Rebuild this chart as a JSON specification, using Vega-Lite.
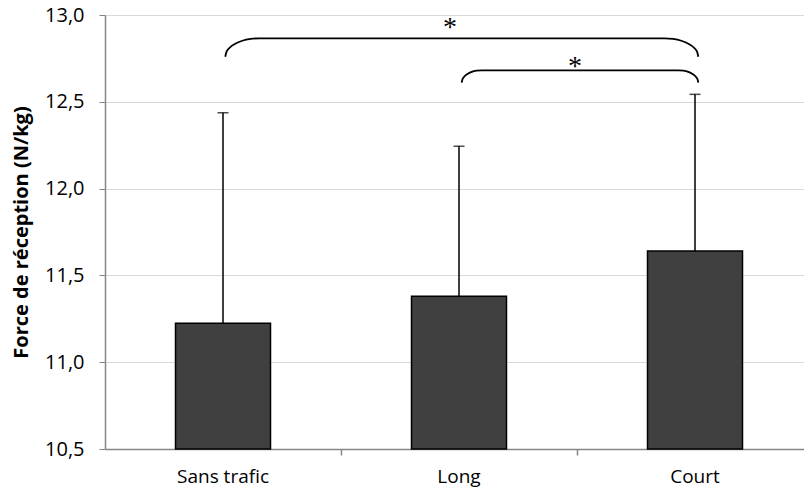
{
  "$schema": "https://vega.github.io/schema/vega-lite/v6.json",
  "width": 699,
  "height": 434,
  "autosize": {"type": "none"},
  "padding": {"left": 105, "top": 15, "right": 0, "bottom": 46},
  "background": "white",
  "config": {"view": {"stroke": null}, "font": "Open Sans"},
  "datasets": {
    "bars": [
      {"condition": "Sans trafic", "mean": 11.224, "upper": 12.437},
      {"condition": "Long", "mean": 11.38, "upper": 12.244},
      {"condition": "Court", "mean": 11.64, "upper": 12.543}
    ],
    "brackets": [
      {"id": "a", "i": 0, "bx": 0.5097, "by": 12.7598},
      {"id": "a", "i": 1, "bx": 0.5147, "by": 12.7873},
      {"id": "a", "i": 2, "bx": 0.5291, "by": 12.8128},
      {"id": "a", "i": 3, "bx": 0.5520, "by": 12.8347},
      {"id": "a", "i": 4, "bx": 0.5818, "by": 12.8516},
      {"id": "a", "i": 5, "bx": 0.6165, "by": 12.8622},
      {"id": "a", "i": 6, "bx": 0.6538, "by": 12.8658},
      {"id": "a", "i": 7, "bx": 2.3699, "by": 12.8658},
      {"id": "a", "i": 8, "bx": 2.4072, "by": 12.8622},
      {"id": "a", "i": 9, "bx": 2.4419, "by": 12.8516},
      {"id": "a", "i": 10, "bx": 2.4718, "by": 12.8347},
      {"id": "a", "i": 11, "bx": 2.4947, "by": 12.8128},
      {"id": "a", "i": 12, "bx": 2.5091, "by": 12.7873},
      {"id": "a", "i": 13, "bx": 2.5140, "by": 12.7598},
      {"id": "b", "i": 0, "bx": 1.5114, "by": 12.610},
      {"id": "b", "i": 1, "bx": 1.5143, "by": 12.6285},
      {"id": "b", "i": 2, "bx": 1.5228, "by": 12.6457},
      {"id": "b", "i": 3, "bx": 1.5363, "by": 12.6605},
      {"id": "b", "i": 4, "bx": 1.5538, "by": 12.6719},
      {"id": "b", "i": 5, "bx": 1.5742, "by": 12.679},
      {"id": "b", "i": 6, "bx": 1.5962, "by": 12.6814},
      {"id": "b", "i": 7, "bx": 2.4292, "by": 12.6814},
      {"id": "b", "i": 8, "bx": 2.4512, "by": 12.679},
      {"id": "b", "i": 9, "bx": 2.4716, "by": 12.6719},
      {"id": "b", "i": 10, "bx": 2.4892, "by": 12.6605},
      {"id": "b", "i": 11, "bx": 2.5026, "by": 12.6457},
      {"id": "b", "i": 12, "bx": 2.5111, "by": 12.6285},
      {"id": "b", "i": 13, "bx": 2.5140, "by": 12.610}
    ],
    "stars": [
      {"label": "*", "sx": 1.4619, "sy": 12.952},
      {"label": "*", "sx": 1.9915, "sy": 12.731}
    ]
  },
  "layer": [
    {
      "data": {"name": "bars"},
      "encoding": {
        "x": {
          "field": "condition",
          "type": "nominal",
          "sort": null,
          "scale": {"range": [0, 708], "paddingInner": 0, "paddingOuter": 0},
          "axis": {
            "title": null,
            "ticks": false,
            "labelAngle": 0,
            "labelFontSize": 19,
            "labelColor": "#000",
            "labelPadding": 18,
            "domainColor": "#868686",
            "domainWidth": 1.5
          }
        },
        "y": {
          "field": "mean",
          "type": "quantitative",
          "title": "Force de réception (N/kg)",
          "scale": {"domain": [10.5, 13], "zero": false, "nice": false},
          "axis": {
            "values": [10.5, 11, 11.5, 12, 12.5, 13],
            "labelExpr": "replace(format(datum.value, '.1f'), '.', ',')",
            "labelFontSize": 20,
            "labelColor": "#000",
            "labelPadding": 15,
            "titleFontSize": 20,
            "titleFontWeight": "bold",
            "titleColor": "#000",
            "titlePadding": 13,
            "grid": true,
            "gridColor": "#d9d9d9",
            "gridWidth": 1.2,
            "domainColor": "#868686",
            "domainWidth": 1.5,
            "tickColor": "#868686",
            "tickSize": 6
          }
        }
      },
      "layer": [
        {
          "mark": {"type": "bar", "fill": "#404040", "stroke": "#000", "strokeWidth": 1.5, "size": 95},
          "encoding": {"y2": {"datum": 10.5}}
        },
        {
          "mark": {"type": "rule", "color": "#000", "strokeWidth": 1.5},
          "encoding": {"y2": {"field": "upper"}}
        },
        {
          "mark": {"type": "tick", "color": "#000", "size": 11, "thickness": 1.5},
          "encoding": {"y": {"field": "upper", "type": "quantitative", "title": "Force de réception (N/kg)"}}
        }
      ]
    },
    {
      "layer": [
        {
          "data": {"name": "brackets"},
          "mark": {"type": "line", "color": "#000", "strokeWidth": 1.8, "interpolate": "monotone"},
          "encoding": {
            "x": {
              "field": "bx",
              "type": "quantitative",
              "scale": {"domain": [0, 3], "range": [0, 708], "nice": false, "zero": false},
              "axis": {
                "orient": "bottom",
                "values": [1, 2],
                "labels": false,
                "domain": false,
                "grid": false,
                "ticks": true,
                "tickSize": 6,
                "tickColor": "#868686",
                "tickWidth": 1.5,
                "title": null
              }
            },
            "y": {"field": "by", "type": "quantitative", "title": "Force de réception (N/kg)"},
            "detail": {"field": "id"},
            "order": {"field": "i"}
          }
        },
        {
          "data": {"name": "stars"},
          "mark": {"type": "text", "font": "Liberation Serif", "fontSize": 28, "baseline": "middle", "align": "center", "color": "#000", "dy": 5},
          "encoding": {
            "x": {"field": "sx", "type": "quantitative"},
            "y": {"field": "sy", "type": "quantitative", "title": "Force de réception (N/kg)"},
            "text": {"field": "label"}
          }
        }
      ]
    }
  ],
  "resolve": {"scale": {"x": "independent"}, "axis": {"x": "independent"}}
}
